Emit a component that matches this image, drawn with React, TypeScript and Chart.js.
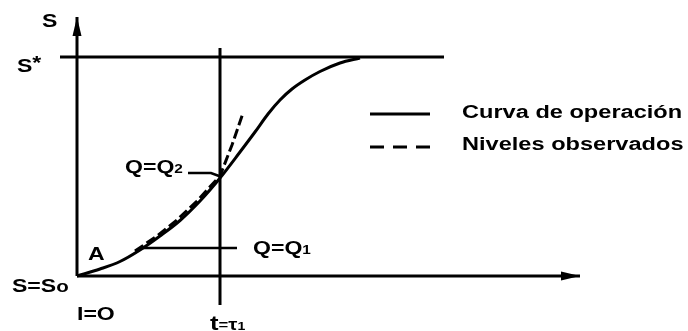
import React, { useEffect, useRef } from "react";
import { Chart, registerables } from "chart.js";

Chart.register(...registerables);

// Operation curve S(t)
const curveT = [0, 23, 43, 63, 83, 103, 123, 143, 163, 178, 191, 203, 215, 228, 243, 263, 283];
const curveS = [0, 7, 14.5, 26, 40, 55.5, 75, 98, 124, 144, 162, 176, 187, 196, 204.5, 213, 218];

// Observed levels (dashed)
const obsT = [58, 80, 100, 120, 143, 155, 166];
const obsS = [25, 40, 56, 75, 100, 131, 163];

// Reference levels / lines
const sStarT = [-17, 367];
const sStarS = [219, 219];
const tauT = [143, 143];
const tauS = [-29, 228];
const q1T = [63, 160];
const q1S = [28, 28];
const q2T = [111, 134, 142];
const q2S = [103, 103, 100];

// Axes
const sAxisT = [0, 0];
const sAxisS = [0, 259];
const tAxisT = [0, 503];
const tAxisS = [0, 0];

// Legend samples
const legSolidT = [293, 353];
const legSolidS = [162, 162];
const legDashT = [293, 353];
const legDashS = [129, 129];

type Part = { text: string; size: number; dy?: number };
type Label = { parts: Part[]; t: number; s: number; sx?: number };

const labels: Label[] = [
  { parts: [{ text: "S", size: 18 }], t: -35, s: 249 },
  { parts: [{ text: "S", size: 18 }, { text: "*", size: 18, dy: -3 }], t: -60, s: 204 },
  { parts: [{ text: "A", size: 18 }], t: 11, s: 16 },
  { parts: [{ text: "S=S", size: 18 }, { text: "o", size: 16 }], t: -65, s: -16 },
  { parts: [{ text: "I=O", size: 18 }], t: 0, s: -44 },
  { parts: [{ text: "t", size: 20 }, { text: "=", size: 13, dy: -1 }, { text: "τ", size: 16 }, { text: "1", size: 11 }], t: 133, s: -54 },
  { parts: [{ text: "Q=Q", size: 18 }, { text: "2", size: 12 }], t: 48, s: 103 },
  { parts: [{ text: "Q=Q", size: 18 }, { text: "1", size: 12 }], t: 176, s: 22 },
  { parts: [{ text: "Curva de operación", size: 18 }], t: 385, s: 158, sx: 1.31 },
  { parts: [{ text: "Niveles observados", size: 18 }], t: 385, s: 126, sx: 1.31 },
];

const STRETCH = 1.28;

const toXY = (ts: number[], ss: number[]) => ts.map((t, i) => ({ x: t, y: ss[i] }));

const line = (data: { x: number; y: number }[], extra: any = {}) => ({
  data,
  showLine: true,
  borderColor: "#000",
  backgroundColor: "#000",
  borderWidth: 3,
  pointRadius: 0,
  borderCapStyle: "butt",
  tension: 0,
  ...extra,
});

const overlayPlugin = {
  id: "overlay",
  afterDatasetsDraw(chart: any) {
    const ctx = chart.ctx;
    const xs = chart.scales.x;
    const ys = chart.scales.y;
    ctx.save();
    ctx.fillStyle = "#000";
    const arrow = (ts: number[], ss: number[]) => {
      const n = ts.length;
      const x1 = xs.getPixelForValue(ts[n - 2]);
      const y1 = ys.getPixelForValue(ss[n - 2]);
      const x2 = xs.getPixelForValue(ts[n - 1]);
      const y2 = ys.getPixelForValue(ss[n - 1]);
      const ang = Math.atan2(y2 - y1, x2 - x1);
      const L = 19;
      const W = 4.5;
      ctx.save();
      ctx.translate(x2, y2);
      ctx.rotate(ang);
      ctx.beginPath();
      ctx.moveTo(0, 0);
      ctx.lineTo(-L, -W);
      ctx.lineTo(-L, W);
      ctx.closePath();
      ctx.fill();
      ctx.restore();
    };
    arrow(sAxisT, sAxisS);
    arrow(tAxisT, tAxisS);
    ctx.textAlign = "left";
    ctx.textBaseline = "alphabetic";
    for (const lb of labels) {
      const px = xs.getPixelForValue(lb.t);
      const py = ys.getPixelForValue(lb.s);
      ctx.save();
      ctx.translate(px, py);
      ctx.scale(lb.sx || STRETCH, 1);
      let cx = 0;
      for (const p of lb.parts) {
        ctx.font = `bold ${p.size}px "Liberation Sans", Arial, sans-serif`;
        ctx.fillText(p.text, cx, p.dy || 0);
        cx += ctx.measureText(p.text).width;
      }
      ctx.restore();
    }
    ctx.restore();
  },
};

export default function App() {
  const ref = useRef<HTMLCanvasElement | null>(null);
  useEffect(() => {
    if (!ref.current) return;
    const chart = new Chart(ref.current, {
      type: "scatter",
      data: {
        datasets: [
          line(toXY(sAxisT, sAxisS)),
          line(toXY(tAxisT, tAxisS)),
          line(toXY(sStarT, sStarS)),
          line(toXY(tauT, tauS)),
          line(toXY(q1T, q1S), { borderWidth: 2.5 }),
          line(toXY(q2T, q2S), { borderWidth: 2.5 }),
          line(toXY(curveT, curveS), { cubicInterpolationMode: "monotone" }),
          line(toXY(obsT, obsS), { borderDash: [10, 4], borderWidth: 3 }),
          line(toXY(legSolidT, legSolidS)),
          line(toXY(legDashT, legDashS), { borderDash: [14, 9] }),
        ] as any,
      },
      options: {
        animation: false,
        responsive: false,
        devicePixelRatio: 1,
        layout: { padding: 0 },
        plugins: { legend: { display: false }, tooltip: { enabled: false }, title: { display: false } },
        scales: {
          x: { type: "linear", min: -77, max: 611, display: false },
          y: { type: "linear", min: -55, max: 276, display: false },
        },
      } as any,
      plugins: [overlayPlugin],
    });
    return () => chart.destroy();
  }, []);
  return (
    <div style={{ position: "fixed", left: 0, top: 0, width: 688, height: 331, background: "#fff" }}>
      <canvas ref={ref} width={688} height={331} style={{ width: 688, height: 331, display: "block" }} />
    </div>
  );
}
